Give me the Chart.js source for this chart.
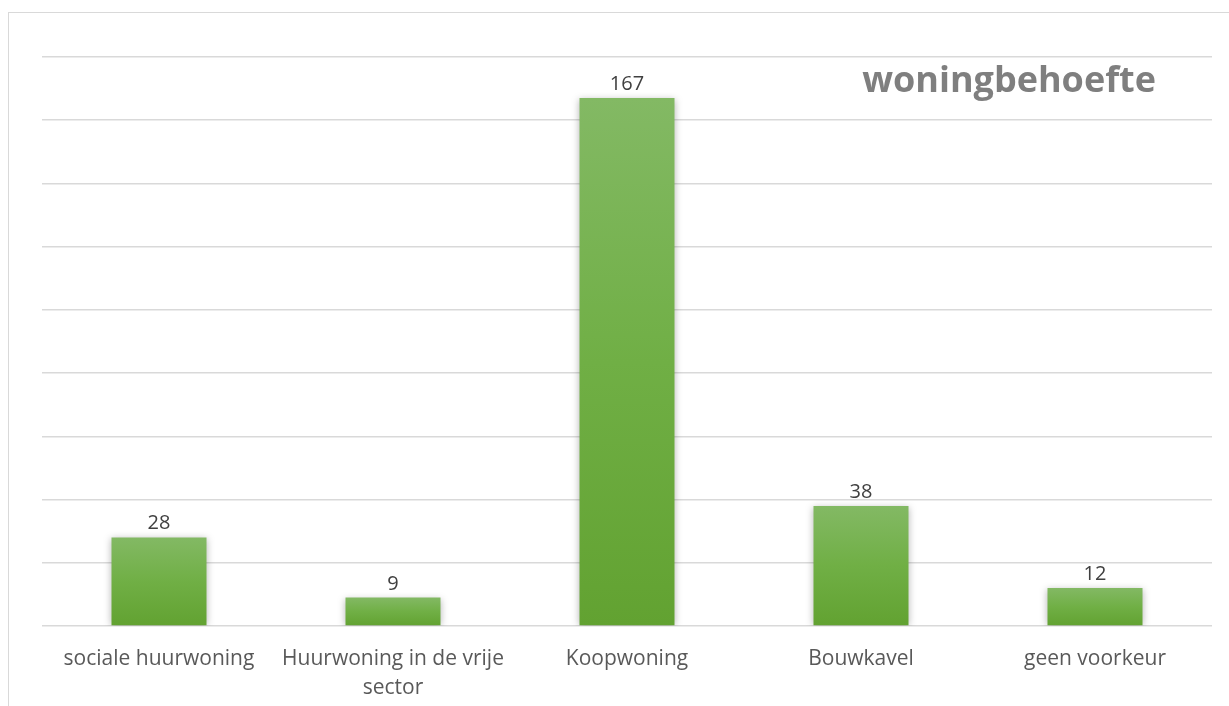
<!DOCTYPE html>
<html>
<head>
<meta charset="utf-8">
<script src="https://cdn.jsdelivr.net/npm/chart.js@4"></script>
<style>
  html, body { margin: 0; padding: 0; background: #ffffff; overflow: hidden; }
  #wrap { position: relative; width: 1229px; height: 706px; }
  #frame { position: absolute; left: 8px; top: 12px; width: 1400px; height: 900px; border-left: 1.5px solid #d9d9d9; border-top: 1.5px solid #d9d9d9; box-sizing: border-box; }
  canvas { position: absolute; left: 0; top: 0; }
</style>
</head>
<body>
<div id="wrap">
  <div id="frame"></div>
  <canvas id="c" width="1229" height="706"></canvas>
</div>
<script>
const chartTitle = 'woningbehoefte';
const categories = ['sociale huurwoning', ['Huurwoning in de vrije', 'sector'], 'Koopwoning', 'Bouwkavel', 'geen voorkeur'];
const values = [28, 9, 167, 38, 12];
const yMax = 180;
const yStep = 20;

const FONT = '"Open Sans", "Noto Sans", sans-serif';

const shadowPlugin = {
  id: 'barShadow',
  beforeDatasetDraw(chart) {
    const ctx = chart.ctx;
    ctx.save();
    ctx.shadowColor = 'rgba(0,0,0,0.28)';
    ctx.shadowBlur = 7;
    ctx.shadowOffsetX = 0;
    ctx.shadowOffsetY = 1;
  },
  afterDatasetDraw(chart) {
    chart.ctx.restore();
  }
};

const labelPlugin = {
  id: 'valueLabels',
  afterDatasetsDraw(chart) {
    const ctx = chart.ctx;
    const meta = chart.getDatasetMeta(0);
    ctx.save();
    ctx.font = '20px ' + FONT;
    ctx.fillStyle = '#404040';
    ctx.textAlign = 'center';
    ctx.textBaseline = 'alphabetic';
    meta.data.forEach((bar, i) => {
      ctx.fillText(String(chart.data.datasets[0].data[i]), bar.x, bar.y - 8);
    });
    ctx.restore();
  }
};

const titlePlugin = {
  id: 'insideTitle',
  afterDraw(chart) {
    const ctx = chart.ctx;
    ctx.save();
    ctx.font = 'bold 36px ' + FONT;
    ctx.fillStyle = '#7f7f7f';
    ctx.textAlign = 'right';
    ctx.textBaseline = 'alphabetic';
    ctx.fillText(chartTitle, 1156, 92);
    ctx.restore();
  }
};

new Chart(document.getElementById('c'), {
  type: 'bar',
  data: {
    labels: categories,
    datasets: [{
      data: values,
      backgroundColor(context) {
        const chart = context.chart;
        const area = chart.chartArea;
        if (!area) return '#70ad47';
        const y = chart.scales.y;
        const top = y.getPixelForValue(context.raw);
        const bottom = y.getPixelForValue(0);
        if (!isFinite(top) || top === bottom) return '#70ad47';
        const g = chart.ctx.createLinearGradient(0, top, 0, bottom);
        g.addColorStop(0, '#83b964');
        g.addColorStop(0.5, '#70af45');
        g.addColorStop(1, '#62a231');
        return g;
      },
      borderWidth: 0,
      categoryPercentage: 1,
      barPercentage: 0.406
    }]
  },
  options: {
    responsive: false,
    animation: false,
    devicePixelRatio: 1,
    layout: { padding: { left: 42, right: 17, top: 57, bottom: 4 } },
    plugins: {
      legend: { display: false },
      title: { display: false },
      tooltip: { enabled: false }
    },
    scales: {
      x: {
        grid: { display: false, drawTicks: false },
        border: { display: false },
        afterFit(scale) { scale.height = 76; },
        ticks: {
          color: '#595959',
          font: { family: FONT, size: 21, lineHeight: 1.38 },
          padding: 19,
          maxRotation: 0,
          minRotation: 0,
          autoSkip: false
        }
      },
      y: {
        min: 0,
        max: yMax,
        ticks: { stepSize: yStep, display: false },
        grid: { color: '#d9d9d9', lineWidth: 1.6, drawTicks: false },
        border: { display: false }
      }
    }
  },
  plugins: [shadowPlugin, labelPlugin, titlePlugin]
});
</script>
</body>
</html>
